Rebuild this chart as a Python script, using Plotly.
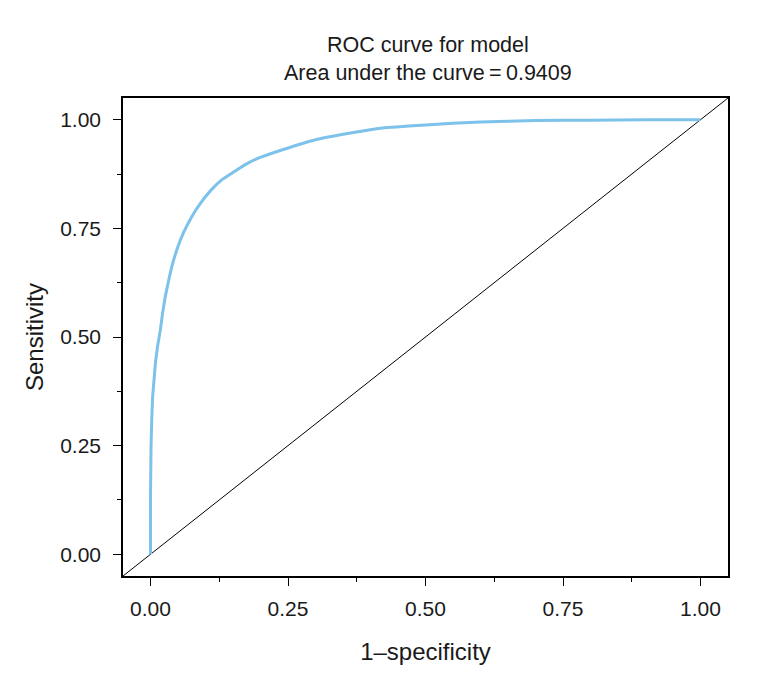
import plotly.graph_objects as go

# ROC curve (1-specificity, sensitivity)
fpr = [0.000, 0.000, 0.000, 0.001, 0.002, 0.004, 0.007, 0.009, 0.013, 0.018,
       0.022, 0.027, 0.033, 0.039, 0.049, 0.060, 0.075, 0.091, 0.110, 0.130,
       0.148, 0.170, 0.197, 0.240, 0.300, 0.361, 0.422, 0.500, 0.600, 0.700,
       0.800, 0.900, 1.000]
tpr = [0.000, 0.010, 0.134, 0.249, 0.300, 0.364, 0.410, 0.441, 0.480, 0.517,
       0.555, 0.594, 0.630, 0.663, 0.705, 0.740, 0.777, 0.808, 0.838, 0.862,
       0.877, 0.895, 0.912, 0.931, 0.954, 0.969, 0.981, 0.988, 0.995, 0.998,
       0.999, 1.000, 1.000]
auc = 0.9409

tick_vals = [0, 0.25, 0.5, 0.75, 1.0]
tick_text = ["0.00", "0.25", "0.50", "0.75", "1.00"]
axis_range = [-0.05, 1.05]

FONT = "Liberation Sans, Arial, sans-serif"
TEXT = "#1a1a1a"
CURVE = "#7cc2ea"

fig = go.Figure()

# reference diagonal y = x across the full plot area
fig.add_trace(go.Scatter(
    x=axis_range, y=axis_range, mode="lines",
    line=dict(color="black", width=1), hoverinfo="skip", showlegend=False,
))

fig.add_trace(go.Scatter(
    x=fpr, y=tpr, mode="lines", line_shape="spline",
    line=dict(color=CURVE, width=3, smoothing=0.3), showlegend=False,
))

axis_common = dict(
    range=axis_range, tickvals=tick_vals, ticktext=tick_text,
    ticks="outside", ticklen=8, tickwidth=1.2, tickcolor="black",
    showline=True, linecolor="black", linewidth=1.5, mirror=True,
    showgrid=False, zeroline=False,
    tickfont=dict(family=FONT, size=21, color=TEXT),
    minor=dict(dtick=0.125, tick0=0, ticks="outside", ticklen=4,
               tickwidth=1.2, tickcolor="black", showgrid=False),
)

fig.update_layout(
    width=762, height=681,
    paper_bgcolor="white", plot_bgcolor="white",
    margin=dict(l=115, r=42, t=90, b=113),
    font=dict(family=FONT, color=TEXT),
    title=dict(
        text=f"ROC curve for model<br>Area under the curve\u2009=\u2009{auc}",
        x=0.551, xanchor="center", y=0.936, yanchor="top",
        font=dict(family=FONT, size=21.5, color=TEXT),
    ),
    xaxis=dict(**axis_common, ticklabelstandoff=5,
               title=dict(text="1\u2013specificity", standoff=24,
                          font=dict(family=FONT, size=24, color=TEXT))),
    yaxis=dict(**axis_common, ticklabelstandoff=8,
               title=dict(text="Sensitivity", standoff=10,
                          font=dict(family=FONT, size=24, color=TEXT))),
)

fig.write_html("out.html")
